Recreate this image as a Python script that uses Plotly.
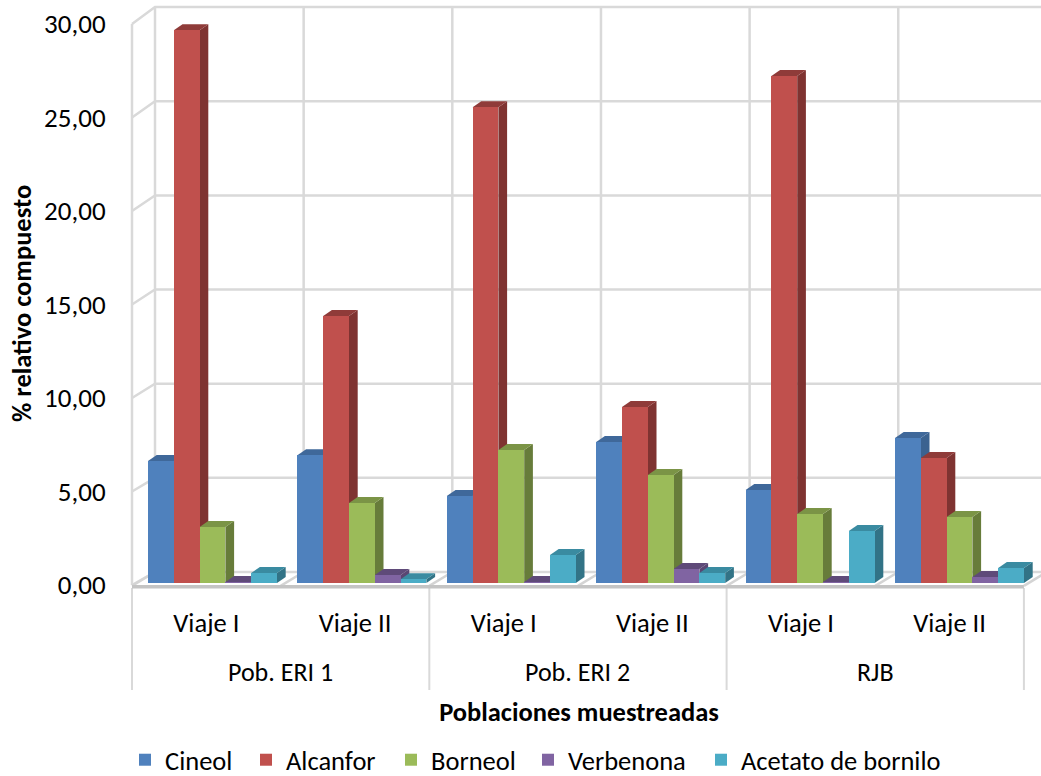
import plotly.graph_objects as go

# ---- data ----
poblaciones = ["Pob. ERI 1", "Pob. ERI 2", "RJB"]
viajes = ["Viaje I", "Viaje II", "Viaje I", "Viaje II", "Viaje I", "Viaje II"]
cineol = [6.49, 6.80, 4.63, 7.50, 4.95, 7.71]
alcanfor = [29.40, 14.20, 25.30, 9.36, 26.97, 6.65]
borneol = [2.98, 4.26, 7.07, 5.74, 3.67, 3.51]
verbenona = [0.05, 0.43, 0.05, 0.74, 0.05, 0.32]
acetato = [0.53, 0.20, 1.49, 0.53, 2.77, 0.80]
y_ticks = [0, 5, 10, 15, 20, 25, 30]

series = [
    ("Cineol", cineol, "#4f81bd", "#3b6290", "#3f689a"),
    ("Alcanfor", alcanfor, "#c0504d", "#7f3331", "#8f3b39"),
    ("Borneol", borneol, "#9bbb59", "#677c3a", "#7b9446"),
    ("Verbenona", verbenona, "#8064a2", "#5a4673", "#5f4a79"),
    ("Acetato de bornilo", acetato, "#4bacc6", "#327386", "#3a8ba1"),
]
legend_x_px = [125, 246, 391, 528, 701]

# ---- geometry of the fake 3D box ----
W, H = 1041, 776
PL, PT, PB = 117, 0, 604          # plot area in px
XU, YU = 149.4, 18.7              # px per x unit, px per y unit
ZERO_PX = 585
FONT = "Carlito, Lato, sans-serif"
TXT = "#000000"
x_range = [-(132 - PL) / XU, (W - 132) / XU]
y_range = [(ZERO_PX - PB) / YU, (ZERO_PX - PT) / YU]
SLOT = 0.995
BAR_W = 25.8 / XU
BAR_X0 = 16 / XU
BAR_BASE = 2 / YU
BAR_K = 18.8 / YU
DX, DY = 8.7 / XU, 6 / YU         # bar depth
WX = 23 / XU                      # wall depth
WY0, WK = 13 / YU, 1.007

fig = go.Figure()

# walls and floor
gx, gy = [], []
for v in y_ticks:
    gx += [0, WX, 6.2, None]
    gy += [v, WY0 + v * WK, WY0 + v * WK, None]
for k in range(7):
    xb = k * SLOT + WX
    gx += [xb, xb, None]
    gy += [WY0, WY0 + 30 * WK, None]
gx += [0, 0, None]
gy += [0, 30, None]
fig.add_trace(go.Scatter(x=gx, y=gy, mode="lines", line=dict(color="#d9d9d9", width=2.5),
                         hoverinfo="skip", showlegend=False))
fx, fy = [], []
for k in range(7):
    fx += [k * SLOT, k * SLOT + WX, None]
    fy += [-0.05, WY0, None]
fig.add_trace(go.Scatter(x=fx, y=fy, mode="lines", line=dict(color="#d4d4d4", width=2.5),
                         hoverinfo="skip", showlegend=False))
fig.add_trace(go.Scatter(x=[0, 6 * SLOT], y=[-0.1, -0.1], mode="lines",
                         line=dict(color="#c4c4c4", width=3.5),
                         hoverinfo="skip", showlegend=False))

# side and top faces, left to right
for j in range(6):
    for i, (name, vals, col, side, top) in enumerate(series):
        x0 = BAR_X0 + j + i * BAR_W
        x1 = x0 + BAR_W
        h = BAR_BASE + vals[j] * BAR_K
        fig.add_trace(go.Scatter(
            x=[x1, x1 + DX, x1 + DX, x1, x1], y=[BAR_BASE, BAR_BASE + DY, h + DY, h, BAR_BASE],
            mode="lines", fill="toself", fillcolor=side, line=dict(width=0),
            hoverinfo="skip", showlegend=False))
        fig.add_trace(go.Scatter(
            x=[x0, x1, x1 + DX, x0 + DX, x0], y=[h, h, h + DY, h + DY, h],
            mode="lines", fill="toself", fillcolor=top, line=dict(width=0),
            hoverinfo="skip", showlegend=False))

# front faces, as real bars on an overlaid pair of axes
for i, (name, vals, col, side, top) in enumerate(series):
    fig.add_trace(go.Bar(
        x=[BAR_X0 + j + (i + 0.5) * BAR_W for j in range(6)],
        y=[v * BAR_K for v in vals], base=BAR_BASE, width=BAR_W,
        name=name, marker=dict(color=col, line=dict(width=0)),
        xaxis="x2", yaxis="y2", legend="legend" if i == 0 else f"legend{i + 1}",
        customdata=vals, hovertemplate=name + ": %{customdata:.2f}<extra></extra>"))

# dividers below the floor
shapes = []
for k in range(4):
    shapes.append(dict(type="line", xref="x", yref="paper", x0=k * 2 * SLOT, x1=k * 2 * SLOT,
                       y0=1 - 588 / PB, y1=1 - 690 / PB, line=dict(color="#d9d9d9", width=2), layer="below"))

annotations = [
    dict(text=p, xref="x", yref="paper", x=(2 * k + 1) * SLOT, y=1 - 672 / PB,
         showarrow=False, font=dict(family=FONT, size=26, color=TXT), xanchor="center", yanchor="middle")
    for k, p in enumerate(poblaciones)
]
annotations.append(dict(text="<b>% relativo compuesto</b>", xref="paper", yref="paper",
                        x=(22 - PL) / (W - PL), y=1 - 304 / PB, textangle=-90, showarrow=False,
                        font=dict(family=FONT, size=26.5, color=TXT), xanchor="center", yanchor="middle"))

legends = {}
for i, lx in enumerate(legend_x_px):
    key = "legend" if i == 0 else f"legend{i + 1}"
    legends[key] = dict(x=lx / W, y=(H - 760) / H, xref="container", yref="container",
                        xanchor="left", yanchor="middle", bgcolor="rgba(0,0,0,0)", borderwidth=0,
                        font=dict(family=FONT, size=26.5, color=TXT), itemwidth=30, traceorder="normal")

fig.update_layout(
    width=W, height=H, paper_bgcolor="white", plot_bgcolor="white",
    margin=dict(l=PL, r=0, t=PT, b=H - PB, autoexpand=False),
    barmode="overlay", bargap=0, shapes=shapes, annotations=annotations,
    separators=",.", hovermode="closest", font=dict(family=FONT, color=TXT),
    xaxis=dict(range=x_range, showgrid=False, zeroline=False, showline=False,
               tickmode="array", tickvals=[(k + 0.5) * SLOT for k in range(6)], ticktext=viajes,
               ticks="", tickfont=dict(family=FONT, size=26.5, color=TXT),
               title=dict(text="<b>Poblaciones muestreadas</b>", font=dict(family=FONT, size=26.5, color=TXT), standoff=64)),
    yaxis=dict(range=y_range, showgrid=False, zeroline=False, showline=False,
               tickmode="array", tickvals=y_ticks, tickformat=".2f",
               ticks="outside", ticklen=5, tickcolor="rgba(0,0,0,0)", tickwidth=0,
               tickfont=dict(family=FONT, size=27, color=TXT)),
    xaxis2=dict(overlaying="x", matches="x", visible=False),
    yaxis2=dict(overlaying="y", matches="y", visible=False),
    **legends,
)
fig.write_html("out.html", config={"displayModeBar": False},
               post_script="document.body.style.margin='0';")
